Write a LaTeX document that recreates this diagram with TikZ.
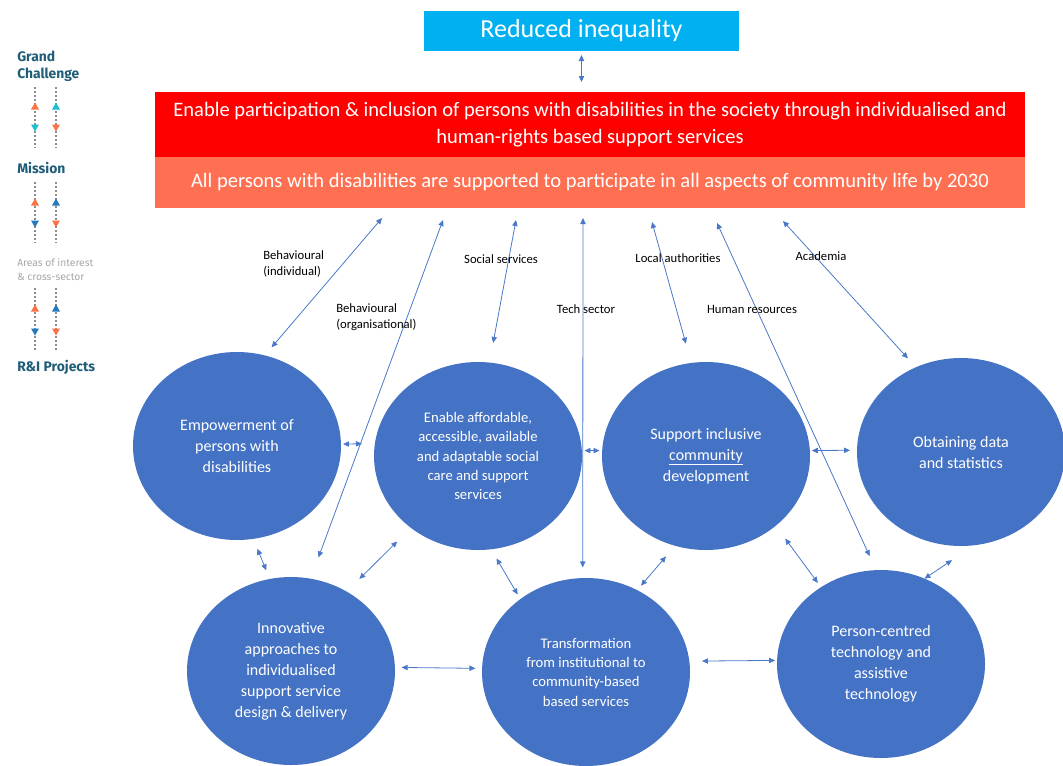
\documentclass[tikz,border=0pt]{standalone}
\usepackage{fontspec}
\setmainfont{Carlito}
\newfontfamily\legfont{Fira Sans}
\usetikzlibrary{arrows.meta,positioning,shapes.geometric}

\definecolor{ineqblue}{HTML}{00B0F0}
\definecolor{visred}{HTML}{FF0000}
\definecolor{missalmon}{HTML}{FF7052}
\definecolor{bubblue}{HTML}{4472C4}
\definecolor{linkblue}{HTML}{4A78C8}
\definecolor{legteal}{HTML}{1F5C78}
\definecolor{legorange}{HTML}{FF7043}
\definecolor{legcyan}{HTML}{1DBFD0}
\definecolor{legblue}{HTML}{2478BC}

\begin{document}
\begin{tikzpicture}[x=0.75pt, y=-0.75pt,
    banner/.style={fill=#1, text=white, inner sep=0pt, outer sep=0pt, align=center, minimum width=652.5pt},
    bubble/.style={ellipse, fill=bubblue, text=white, minimum width=156pt, minimum height=141pt,
        inner sep=0pt, outer sep=0pt, align=center, font=\fontsize{12}{15.75}\selectfont},
    smallbubble/.style={bubble, font=\fontsize{11}{14.5}\selectfont},
    link/.style={linkblue, line width=0.6pt, {Triangle[length=4.5pt,width=4pt]}-{Triangle[length=4.5pt,width=4pt]}},
    sector/.style={font=\fontsize{9.5}{12}\selectfont, align=left, inner sep=0pt},
    legtitle/.style={text=legteal, font=\legfont\bfseries\fontsize{10.4}{12.75}\selectfont, align=left, inner sep=0pt},
    legnote/.style={text=black!35, font=\legfont\fontsize{7.7}{10.5}\selectfont, align=left, inner sep=0pt},
    legdots/.style={black!45, line width=0.8pt, dash pattern=on 1.5pt off 1.5pt}]
    \useasboundingbox (0,0) rectangle (1063,765);

    % Goal, vision and mission
    \node[banner=ineqblue, minimum width=236.25pt, minimum height=30pt,
        font=\fontsize{19.5}{22}\selectfont] (ineq) at (581.5,31) {Reduced inequality};
    \node[banner=visred, minimum height=48.75pt, font=\fontsize{15.4}{20}\selectfont] (vis) at (590,124.5)
        {Enable participation \& inclusion of persons with disabilities in the society through individualised and\\
         human-rights based support services};
    \node[banner=missalmon, minimum height=38.25pt, font=\fontsize{15.4}{18}\selectfont, below=0pt of vis] (mis)
        {All persons with disabilities are supported to participate in all aspects of community life by 2030};
    \draw[link, shorten <=3pt, shorten >=7.5pt] (ineq.south) -- (ineq.south |- vis.north);

    % Areas of interest
    \node[bubble] (emp) at (237,446) {Empowerment of\\persons with\\disabilities};
    \node[smallbubble] (aff) at (478,456) {Enable affordable,\\accessible, available\\and adaptable social\\care and support\\services};
    \node[bubble] (sup) at (706,456) {Support inclusive\\\underline{community}\\development};
    \node[bubble] (obt) at (961,452) {Obtaining data\\and statistics};
    \node[bubble] (inno) at (291,671) {Innovative\\approaches to\\individualised\\support service\\design \& delivery};
    \node[smallbubble] (trans) at (586,672) {Transformation\\from institutional to\\community-based\\based services};
    \node[bubble] (pers) at (881,664) {Person-centred\\technology and\\assistive\\technology};

    % Cross-sector links to the mission
    \coordinate (ind-top) at (382,218);
    \coordinate (org-top) at (443,220);
    \coordinate (soc-top) at (516,220);
    \coordinate (tech-top) at (583,218);
    \coordinate (loc-top) at (652,222);
    \coordinate (hum-top) at (717,223);
    \coordinate (acad-top) at (783,221);
    \draw[link, shorten >=8pt] (ind-top) -- (emp.73);
    \draw[link, shorten >=17pt] (org-top) -- (inno.78);
    \draw[link, shorten >=15pt] (soc-top) -- (aff.83);
    \draw[link, shorten >=8pt] (tech-top) -- (trans.92);
    \draw[link, shorten >=15pt] (loc-top) -- (sup.99);
    \draw[link, shorten >=11.5pt] (hum-top) -- (pers.93);
    \draw[link, shorten >=9pt] (acad-top) -- (obt.118);

    \node[sector, anchor=west] (beh1) at (263,264) {Behavioural\\(individual)};
    \node[sector, anchor=west] (beh2) at (336,317) {Behavioural\\(organisational)};
    \node[sector] (soc) at (501,259) {Social services};
    \node[sector] (tech) at (586,309) {Tech sector};
    \node[sector] (loc) at (678,258) {Local authorities};
    \node[sector] (hum) at (752,309) {Human resources};
    \node[sector] (acad) at (821,256) {Academia};

    % Links between the areas
    \draw[link, shorten <=1.5pt, shorten >=9.75pt] (emp.1) -- (aff.173);
    \draw[link, shorten <=2pt, shorten >=2pt] (aff.3) -- (sup.177);
    \draw[link, shorten <=1.5pt, shorten >=5.25pt] (sup.3) -- (obt.179);
    \draw[link, shorten <=5pt, shorten >=5pt] (inno.2) -- (trans.178);
    \draw[link, shorten <=9.5pt, shorten >=1.5pt] (trans.6) -- (pers.178);
    \draw[link, shorten <=8pt, shorten >=7pt] (emp.-80) -- (inno.103);
    \draw[link, shorten <=14.5pt, shorten >=13.5pt] (aff.-133) -- (inno.55);
    \draw[link, shorten <=8pt, shorten >=4pt] (aff.-82) -- (trans.132);
    \draw[link, shorten <=10.5pt, shorten >=4.5pt] (sup.-109) -- (trans.58);
    \draw[link, shorten <=12pt, shorten >=4pt] (sup.-45) -- (pers.128);
    \draw[link, shorten <=20pt] (obt.-82) -- (pers.63);

    % Legend
    \node[legtitle, anchor=west] (gc) at (17,66.5) {Grand\\Challenge};
    \node[legtitle, anchor=west] (mission) at (17,168) {Mission};
    \node[legnote, anchor=west] (areas) at (17,270) {Areas of interest\\\& cross-sector};
    \node[legtitle, anchor=west] (rip) at (17,367) {R\&I Projects};

    \draw[legdots] (35,87) -- (35,148);
    \draw[legdots] (56,87) -- (56,148);
    \fill[legorange] (31,109.5) -- (39,109.5) -- (35,102.5) -- cycle;
    \fill[legcyan] (31,124.5) -- (39,124.5) -- (35,131.5) -- cycle;
    \fill[legcyan] (52,109.5) -- (60,109.5) -- (56,102.5) -- cycle;
    \fill[legorange] (52,124.5) -- (60,124.5) -- (56,131.5) -- cycle;

    \draw[legdots] (35,182) -- (35,243);
    \draw[legdots] (56,182) -- (56,243);
    \fill[legorange] (31,205.5) -- (39,205.5) -- (35,198.5) -- cycle;
    \fill[legblue] (31,220.5) -- (39,220.5) -- (35,227.5) -- cycle;
    \fill[legblue] (52,205.5) -- (60,205.5) -- (56,198.5) -- cycle;
    \fill[legorange] (52,220.5) -- (60,220.5) -- (56,227.5) -- cycle;

    \draw[legdots] (35,288) -- (35,352);
    \draw[legdots] (56,288) -- (56,352);
    \fill[legorange] (31,311.5) -- (39,311.5) -- (35,304.5) -- cycle;
    \fill[legblue] (31,328.5) -- (39,328.5) -- (35,335.5) -- cycle;
    \fill[legblue] (52,311.5) -- (60,311.5) -- (56,304.5) -- cycle;
    \fill[legorange] (52,328.5) -- (60,328.5) -- (56,335.5) -- cycle;
\end{tikzpicture}
\end{document}
